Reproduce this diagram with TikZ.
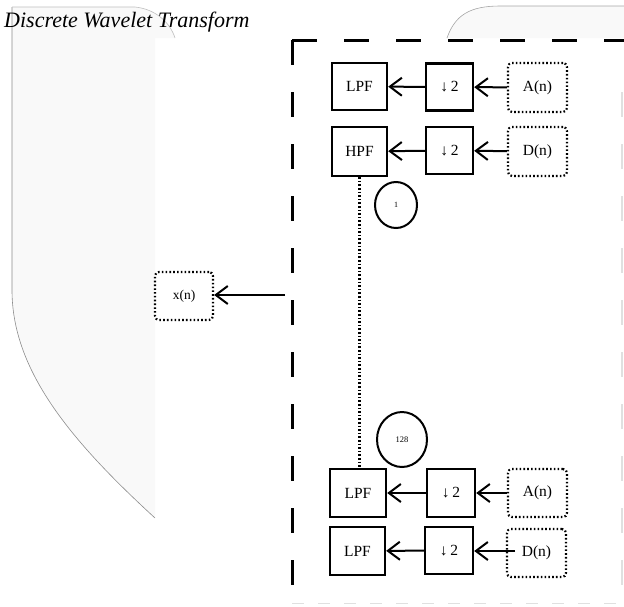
\documentclass[tikz,border=0pt]{standalone}
\usepackage{fontspec}
\setmainfont{Liberation Serif}
\usetikzlibrary{arrows.meta,shapes.geometric}
\begin{document}
\begin{tikzpicture}[x=1pt,y=-1pt,
  blk/.style={draw=black,line width=2.4pt,fill=white,inner sep=0pt,font=\fontsize{15.5}{15.5}\selectfont},
  dotbox/.style={draw=black,line width=2.2pt,dash pattern=on 1.6pt off 2.2pt,rounded corners=4pt,fill=white,inner sep=0pt,font=\fontsize{15.5}{15.5}\selectfont},
  ring/.style={draw=black,ellipse,line width=2pt,inner sep=0pt},
  flow/.style={line width=2pt,-{Straight Barb[length=12pt,width=18pt,line width=2pt]}},
  dashedge/.style={line width=3pt,dash pattern=on 25pt off 27pt},
  faintedge/.style={line width=1.5pt,draw=black!12,dash pattern=on 25pt off 27pt},
  bgshape/.style={fill=black!2.5},
  bgline/.style={draw=black!45,line width=0.6pt}
]
\useasboundingbox (0,0) rectangle (624,606);
% faint background shapes
\fill[bgshape] (12,7) -- (135,7) .. controls (155,9) and (170,22) .. (175,38) -- (155,38) -- (155,518) .. controls (70,440) and (12,370) .. (12,290) -- cycle;
\draw[bgline] (12,7) -- (12,290) .. controls (12,370) and (70,440) .. (155,518);
\draw[bgline,draw=black!25] (12,7) -- (135,7) .. controls (155,9) and (170,22) .. (175,38);
\fill[bgshape] (447,38) .. controls (455,15) and (470,6) .. (500,6) -- (624,6) -- (624,38) -- cycle;
\draw[bgline,draw=black!35] (447,38) .. controls (455,15) and (470,6) .. (500,6) -- (624,6);
% title
\node[anchor=base west,inner sep=0pt,font=\fontsize{22}{22}\selectfont\itshape] (title) at (4,27) {Discrete Wavelet Transform};
% dashed frame
\draw[dashedge] (292,40) -- (292,606);
\draw[dashedge] (292,40) -- (624,40);
\draw[faintedge] (622,92) -- (622,606);
\draw[faintedge,dash pattern=on 12pt off 14pt,line width=1pt] (292,603) -- (624,603);
% top rows
\node[blk,minimum width=55pt,minimum height=47pt] (lpf1) at (359.5,86.5) {LPF};
\node[blk,minimum width=47pt,minimum height=47pt] (ds1) at (449.5,87) {↓\,2};
\node[dotbox,minimum width=59pt,minimum height=49pt] (a1) at (537.5,87.5) {A(n)};
\node[blk,minimum width=55pt,minimum height=49pt] (hpf1) at (359.5,151.5) {HPF};
\node[blk,minimum width=47pt,minimum height=47pt] (ds2) at (449.5,150.5) {↓\,2};
\node[dotbox,minimum width=59pt,minimum height=49pt] (d1) at (537.5,151.5) {D(n)};
% bottom rows
\node[blk,minimum width=56pt,minimum height=48pt] (lpf3) at (358,493) {LPF};
\node[blk,minimum width=48pt,minimum height=48pt] (ds3) at (451,493) {↓\,2};
\node[dotbox,minimum width=59pt,minimum height=48pt] (a2) at (537.5,493) {A(n)};
\node[blk,minimum width=55pt,minimum height=48pt] (lpf4) at (357.5,551) {LPF};
\node[blk,minimum width=48pt,minimum height=47pt] (ds4) at (449,550.5) {↓\,2};
\node[dotbox,minimum width=59pt,minimum height=48pt] (d2) at (536.5,553) {D(n)};
% output
\node[dotbox,minimum width=58pt,minimum height=48pt,font=\fontsize{13.5}{13.5}\selectfont] (x) at (184,296) {x(n)};
\coordinate (xin) at (285,295);
\coordinate (d2in) at (515,551);
% circles
\node[ring,minimum width=42pt,minimum height=46pt,font=\fontsize{8}{8}\selectfont] (c1) at (396,205) {1};
\node[ring,minimum width=50pt,minimum height=55pt,font=\fontsize{8.5}{8.5}\selectfont] (c128) at (402,439.5) {128};
% connectors
\draw[flow] (ds1) -- (lpf1);
\draw[flow] (a1) -- (ds1);
\draw[flow] (ds2) -- (hpf1);
\draw[flow] (d1) -- (ds2);
\draw[flow] (ds3) -- (lpf3);
\draw[flow] (a2) -- (ds3);
\draw[flow] (ds4) -- (lpf4);
\draw[flow] (d2in) -- (ds4.east |- d2in);
\draw[flow] (xin) -- (x.east |- xin);
\draw[line width=2.2pt,dash pattern=on 1.6pt off 2pt] (hpf1.south) -- (hpf1.south |- lpf3.north);
\end{tikzpicture}
\end{document}
